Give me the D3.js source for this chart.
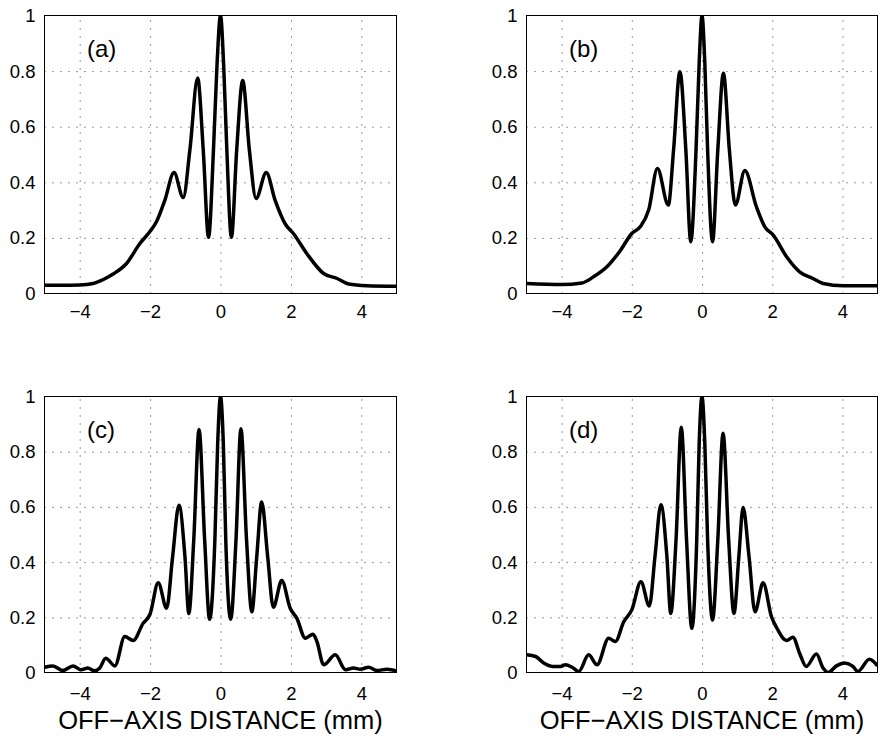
<!DOCTYPE html>
<html>
<head>
<meta charset="utf-8">
<script src="https://cdn.jsdelivr.net/npm/d3@7"></script>
<style>
  body { margin: 0; background: #fff; }
  text { font-family: "Liberation Sans", Arial, Helvetica, sans-serif; fill: #000; }
</style>
</head>
<body>
<div id="chart"></div>
<script>
// off-axis profiles
var xA = [-5, -4.5, -4, -3.62, -3.3, -3.05, -2.67, -2.29, -2.01, -1.82, -1.58, -1.32, -1.06, -0.87, -0.65, -0.49, -0.34, -0.2, -0.1, 0, 0.09, 0.18, 0.31, 0.46, 0.63, 0.82, 1.01, 1.3, 1.55, 1.84, 2.07, 2.45, 2.93, 3.31, 3.64, 4.16, 5];
var yA = [0.030, 0.030, 0.031, 0.036, 0.052, 0.07, 0.108, 0.18, 0.222, 0.258, 0.336, 0.435, 0.345, 0.516, 0.775, 0.516, 0.202, 0.516, 0.82, 1.0, 0.82, 0.516, 0.202, 0.516, 0.766, 0.516, 0.342, 0.435, 0.336, 0.25, 0.216, 0.144, 0.072, 0.054, 0.034, 0.028, 0.026];

var xB = [-5, -4, -3.42, -3.09, -2.71, -2.33, -2.0, -1.76, -1.52, -1.27, -0.96, -0.81, -0.63, -0.46, -0.32, -0.17, -0.08, 0, 0.08, 0.16, 0.3, 0.45, 0.61, 0.78, 0.95, 1.22, 1.55, 1.79, 2.03, 2.41, 2.78, 3.16, 3.45, 4.02, 5];
var yB = [0.036, 0.032, 0.038, 0.06, 0.096, 0.154, 0.216, 0.24, 0.30, 0.45, 0.318, 0.516, 0.798, 0.516, 0.186, 0.516, 0.83, 1.0, 0.83, 0.516, 0.186, 0.516, 0.792, 0.516, 0.318, 0.442, 0.312, 0.24, 0.21, 0.132, 0.078, 0.054, 0.036, 0.028, 0.028];

var xC = [-5, -4.76, -4.48, -4.19, -3.96, -3.77, -3.58, -3.43, -3.26, -3.0, -2.72, -2.48, -2.2, -2.0, -1.77, -1.53, -1.36, -1.18, -1.01, -0.9, -0.76, -0.61, -0.45, -0.31, -0.16, -0.08, 0, 0.08, 0.15, 0.29, 0.44, 0.58, 0.74, 0.89, 1.03, 1.17, 1.34, 1.5, 1.74, 1.98, 2.17, 2.41, 2.63, 2.74, 2.93, 3.26, 3.55, 3.78, 3.97, 4.21, 4.45, 4.73, 5];
var yC = [0.019, 0.024, 0.007, 0.024, 0.01, 0.016, 0.006, 0.016, 0.052, 0.024, 0.13, 0.116, 0.178, 0.212, 0.325, 0.233, 0.42, 0.606, 0.42, 0.214, 0.48, 0.88, 0.48, 0.193, 0.48, 0.83, 1.0, 0.83, 0.48, 0.193, 0.48, 0.883, 0.48, 0.22, 0.42, 0.618, 0.42, 0.236, 0.333, 0.233, 0.196, 0.124, 0.139, 0.112, 0.028, 0.064, 0.01, 0.016, 0.012, 0.019, 0.007, 0.012, 0.006];

var xD = [-5, -4.74, -4.51, -4.27, -4.03, -3.89, -3.7, -3.51, -3.23, -2.99, -2.66, -2.47, -2.23, -2.0, -1.74, -1.5, -1.34, -1.17, -1.0, -0.89, -0.74, -0.59, -0.44, -0.29, -0.15, -0.08, 0, 0.08, 0.16, 0.3, 0.45, 0.6, 0.76, 0.91, 1.05, 1.17, 1.34, 1.51, 1.74, 1.98, 2.12, 2.41, 2.59, 2.78, 2.97, 3.26, 3.45, 3.59, 3.83, 4.06, 4.3, 4.44, 4.77, 5];
var yD = [0.064, 0.058, 0.034, 0.022, 0.022, 0.028, 0.019, 0.004, 0.064, 0.028, 0.124, 0.112, 0.184, 0.227, 0.329, 0.241, 0.42, 0.608, 0.42, 0.214, 0.48, 0.889, 0.48, 0.16, 0.48, 0.83, 1.0, 0.83, 0.48, 0.19, 0.48, 0.867, 0.48, 0.214, 0.42, 0.598, 0.42, 0.22, 0.325, 0.202, 0.164, 0.116, 0.128, 0.07, 0.022, 0.067, 0.016, 0.0, 0.024, 0.034, 0.022, 0.004, 0.048, 0.024];

var panelLabels = ["(a)", "(b)", "(c)", "(d)"];
var xTicks = [-4, -2, 0, 2, 4];
var xTickLabels = ["\u22124", "\u22122", "0", "2", "4"];
var yTicks = [0, 0.2, 0.4, 0.6, 0.8, 1];
var yTickLabels = ["0", "0.2", "0.4", "0.6", "0.8", "1"];
var xTitle = "OFF\u2212AXIS DISTANCE (mm)";

var svgWidth = 881;
var svgHeight = 736;

var svg = d3.select("#chart")
  .append("svg")
  .attr("width", svgWidth)
  .attr("height", svgHeight);

// plot boxes, in page pixels
var panels = [
  { xs: xA, ys: yA, left: 44.5, right: 396.5, top: 15.5, bottom: 293.5, tickPad: 11, title: false },
  { xs: xB, ys: yB, left: 526.5, right: 877.5, top: 15.5, bottom: 293.5, tickPad: 11, title: false },
  { xs: xC, ys: yC, left: 44.5, right: 396.5, top: 396.5, bottom: 672.5, tickPad: 14, title: true },
  { xs: xD, ys: yD, left: 526.5, right: 877.5, top: 396.5, bottom: 672.5, tickPad: 14, title: true }
];

panels.forEach(function(p, i) {
  var width = p.right - p.left;
  var height = p.bottom - p.top;

  var g = svg.append("g")
    .attr("transform", `translate(${p.left}, ${p.top})`);

  var xScale = d3.scaleLinear().domain([-5, 5]).range([0, width]);
  var yScale = d3.scaleLinear().domain([0, 1]).range([height, 0]);

  // dotted grid
  var xGrid = g.append("g")
    .attr("transform", `translate(0, ${height})`)
    .call(d3.axisBottom(xScale).tickValues(xTicks).tickSize(-height).tickFormat(""));
  var yGrid = g.append("g")
    .call(d3.axisLeft(yScale).tickValues(yTicks.slice(1, 5)).tickSize(-width).tickFormat(""));
  [xGrid, yGrid].forEach(function(gr) {
    gr.select(".domain").remove();
    gr.selectAll("line")
      .attr("stroke", "#000")
      .attr("stroke-width", 1)
      .attr("stroke-opacity", 0.8)
      .attr("stroke-dasharray", "1,7");
  });

  // tick labels
  var xAxis = g.append("g")
    .attr("transform", `translate(0, ${height})`)
    .call(d3.axisBottom(xScale).tickValues(xTicks).tickSize(0).tickPadding(p.tickPad)
      .tickFormat(function(d, k) { return xTickLabels[k]; }));
  var yAxis = g.append("g")
    .call(d3.axisLeft(yScale).tickValues(yTicks).tickSize(0).tickPadding(9)
      .tickFormat(function(d, k) { return yTickLabels[k]; }));
  [xAxis, yAxis].forEach(function(ax) {
    ax.select(".domain").remove();
    ax.selectAll("text")
      .attr("font-size", 18.5)
      .attr("font-family", "Liberation Sans, Arial, sans-serif");
  });

  g.append("clipPath")
    .attr("id", "clip" + i)
    .append("rect")
    .attr("width", width)
    .attr("height", height);

  var line = d3.line()
    .x(function(d) { return xScale(d[0]); })
    .y(function(d) { return yScale(d[1]); })
    .curve(d3.curveMonotoneX);

  g.append("path")
    .datum(d3.zip(p.xs, p.ys))
    .attr("clip-path", `url(#clip${i})`)
    .attr("fill", "none")
    .attr("stroke", "#000")
    .attr("stroke-width", 3.5)
    .attr("stroke-linejoin", "round")
    .attr("d", line);

  // box
  g.append("rect")
    .attr("width", width)
    .attr("height", height)
    .attr("fill", "none")
    .attr("stroke", "#000")
    .attr("stroke-width", 1);

  g.append("text")
    .attr("x", 42.5)
    .attr("y", 41)
    .attr("font-size", 24)
    .text(panelLabels[i]);

  if (p.title) {
    g.append("text")
      .attr("x", width / 2)
      .attr("y", height + 56)
      .attr("text-anchor", "middle")
      .attr("font-size", 25.5)
      .text(xTitle);
  }
});
</script>
</body>
</html>
